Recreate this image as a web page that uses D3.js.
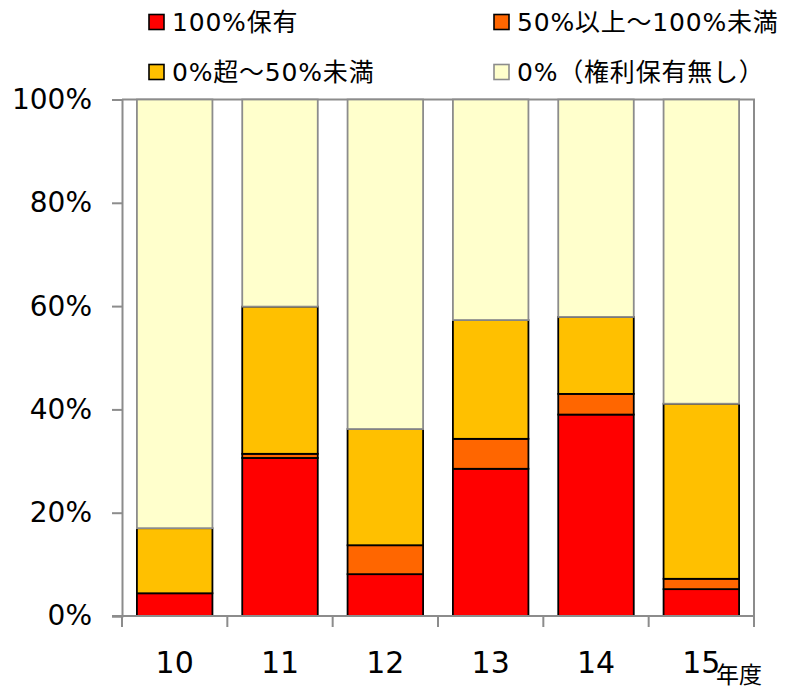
<!DOCTYPE html>
<html>
<head>
<meta charset="utf-8">
<script src="https://cdn.jsdelivr.net/npm/d3@7"></script>
<style>
  html, body { margin: 0; padding: 0; background: #fff; }
  svg { display: block; font-family: "DejaVu Sans", Verdana, "Noto Sans CJK JP", sans-serif; }
</style>
</head>
<body>
<svg id="chart" width="788" height="691"></svg>
<script>
// Fiscal years (年度)
const years = ["10", "11", "12", "13", "14", "15"];

// Share of cases by ownership level (%)
const full = [4.4, 30.6, 8.1, 28.5, 39.0, 5.2];        // 100%保有
const majority = [0.0, 0.8, 5.6, 5.8, 4.0, 2.0];      // 50%以上～100%未満
const minority = [12.6, 28.5, 22.5, 23.0, 14.9, 33.9]; // 0%超～50%未満
const none = years.map((_, i) => +(100 - full[i] - majority[i] - minority[i]).toFixed(1)); // 0%（権利保有無し）

const seriesNames = ["100%保有", "50%以上～100%未満", "0%超～50%未満", "0%（権利保有無し）"];
const seriesColors = ["#FF0000", "#FF6600", "#FFC000", "#FFFFCC"];
const seriesStrokes = ["#000000", "#000000", "#000000", "#8c8c8c"];
const yTicks = [0, 20, 40, 60, 80, 100];

const rows = years.map((y, i) => ({
  year: y,
  [seriesNames[0]]: full[i],
  [seriesNames[1]]: majority[i],
  [seriesNames[2]]: minority[i],
  [seriesNames[3]]: none[i]
}));

const svg = d3.select("#chart");
const plotLeft = 122, plotRight = 754, plotTop = 99.5, plotBottom = 616;
const axisColor = "#8c8c8c";

const x = d3.scaleBand().domain(years).range([plotLeft, plotRight]).paddingInner(0.283).paddingOuter(0.1415);
const y = d3.scaleLinear().domain([0, 100]).range([plotBottom, plotTop]);

const stacked = d3.stack().keys(seriesNames)(rows);

// Plot frame: top and right edges
svg.append("path")
  .attr("d", `M${plotLeft},${y(100)}H${plotRight}V${plotBottom}`)
  .attr("fill", "none").attr("stroke", axisColor).attr("stroke-width", 2);

// Stacked bars
svg.append("g").selectAll("g")
  .data(stacked)
  .join("g")
  .attr("fill", (d, i) => seriesColors[i])
  .attr("stroke", (d, i) => seriesStrokes[i])
  .attr("stroke-width", 1.8)
  .selectAll("rect")
  .data(d => d.filter(s => s[1] - s[0] > 0))
  .join("rect")
  .attr("x", d => x(d.data.year))
  .attr("width", x.bandwidth())
  .attr("y", d => y(d[1]))
  .attr("height", d => y(d[0]) - y(d[1]));

// Y axis
const yAxis = svg.append("g")
  .attr("transform", `translate(${plotLeft},0)`)
  .call(d3.axisLeft(y).tickValues(yTicks).tickFormat(d => d + "%").tickSize(10).tickPadding(20));
yAxis.select(".domain").attr("stroke", axisColor).attr("stroke-width", 2);
yAxis.selectAll(".tick line").attr("stroke", axisColor).attr("stroke-width", 2);
yAxis.selectAll(".tick text")
  .attr("fill", "#000")
  .style("font-size", "28px")
  .style("font-family", "'DejaVu Sans', Verdana, sans-serif");

// X axis: ticks at category boundaries
const xAxisG = svg.append("g").attr("transform", `translate(0,${plotBottom})`);
xAxisG.append("line")
  .attr("x1", plotLeft - 10).attr("x2", plotRight)
  .attr("stroke", axisColor).attr("stroke-width", 2);
const boundaries = years.map((_, i) => plotLeft + i * x.step()).concat([plotRight]);
xAxisG.selectAll("line.tick")
  .data(boundaries)
  .join("line")
  .attr("class", "tick")
  .attr("x1", d => d).attr("x2", d => d)
  .attr("y1", 0).attr("y2", 11)
  .attr("stroke", axisColor).attr("stroke-width", 2);
xAxisG.selectAll("text")
  .data(years)
  .join("text")
  .attr("x", d => x(d) + x.bandwidth() / 2)
  .attr("y", 57)
  .attr("text-anchor", "middle")
  .style("font-size", "30px")
  .attr("fill", "#000")
  .text(d => d);

// Unit label
svg.append("text")
  .attr("x", 716).attr("y", 683)
  .style("font-size", "23px")
  .style("font-family", "'Noto Sans CJK JP', sans-serif")
  .attr("fill", "#000")
  .text("年度");

// Legend
const legendPos = [[148, 22], [493, 22], [148, 72], [493, 72]];
const legend = svg.append("g").selectAll("g")
  .data(seriesNames)
  .join("g")
  .attr("transform", (d, i) => `translate(${legendPos[i][0]},${legendPos[i][1]})`);
legend.append("rect")
  .attr("x", 1).attr("y", -7.5).attr("width", 15).attr("height", 15)
  .attr("fill", (d, i) => seriesColors[i])
  .attr("stroke", (d, i) => i === 3 ? "#8c8c8c" : "#000")
  .attr("stroke-width", 1.6);
legend.append("text")
  .attr("x", 24).attr("y", 0)
  .attr("dy", "0.36em")
  .style("font-size", "25px")
  .style("letter-spacing", "0.8px")
  .attr("fill", "#000")
  .text(d => d);
</script>
</body>
</html>
